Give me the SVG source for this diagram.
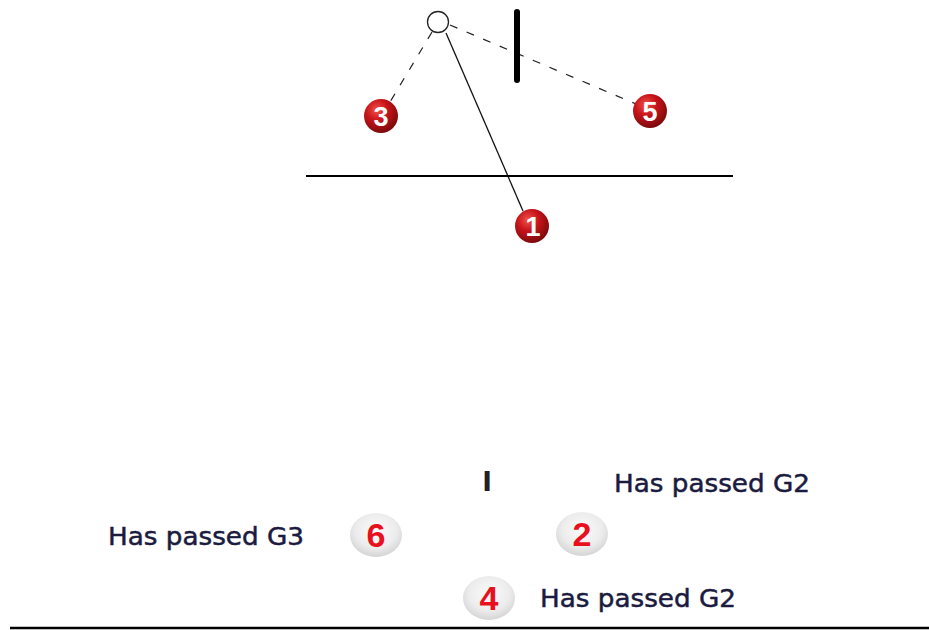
<svg xmlns="http://www.w3.org/2000/svg" width="929" height="630" viewBox="0 0 929 630">
<defs>
<radialGradient id="red" cx="0.38" cy="0.32" r="0.7">
<stop offset="0" stop-color="#f0534a"/>
<stop offset="0.45" stop-color="#c8141a"/>
<stop offset="1" stop-color="#7a0a0c"/>
</radialGradient>
<radialGradient id="grey" cx="0.5" cy="0.4" r="0.65">
<stop offset="0" stop-color="#fbfbfb"/>
<stop offset="0.6" stop-color="#ececec"/>
<stop offset="1" stop-color="#cfcfcf"/>
</radialGradient>
<style>
.ball{fill:url(#red)}
.bnum{font-family:"Liberation Sans",sans-serif;font-weight:bold;font-size:27px;fill:#fff;text-anchor:middle}
.gball{fill:url(#grey)}
.gnum{font-family:"Liberation Sans",sans-serif;font-weight:bold;font-size:34px;fill:#e8101c;text-anchor:middle}
.lbl{font-family:"DejaVu Sans",sans-serif;font-size:25px;fill:#1b1b40;stroke:#1b1b40;stroke-width:0.5}
.dash{stroke:#222;stroke-width:1.2;stroke-dasharray:8,10;fill:none}
</style>
</defs>
<g id="connectors">
<line class="dash" x1="432" y1="32" x2="390" y2="102"/>
<line class="dash" x1="450" y1="25" x2="636" y2="104"/>
<line x1="446" y1="33" x2="523" y2="211" stroke="#111" stroke-width="1.3"/>
</g>
<g id="bar"><line x1="517" y1="12" x2="517" y2="80" stroke="#000" stroke-width="6" stroke-linecap="round"/></g>
<g id="hline"><line x1="306" y1="176" x2="733" y2="176" stroke="#000" stroke-width="2"/></g>
<g id="pivot"><circle cx="438" cy="22" r="10.5" fill="#fff" stroke="#222" stroke-width="1.3"/></g>
<g id="n3"><circle class="ball" cx="381" cy="116" r="17"/><text class="bnum" x="381" y="126">3</text></g>
<g id="n5"><circle class="ball" cx="650" cy="111" r="17"/><text class="bnum" x="650" y="121">5</text></g>
<g id="n1"><circle class="ball" cx="532" cy="226" r="17"/><text class="bnum" x="533" y="236">1</text></g>
<g id="marker-I"><text x="487" y="491" font-family="DejaVu Sans,sans-serif" font-weight="bold" font-size="26" fill="#222" text-anchor="middle">I</text></g>
<g id="n6"><ellipse class="gball" cx="376" cy="535" rx="26" ry="22"/><text class="gnum" x="376" y="547">6</text></g>
<g id="n2"><ellipse class="gball" cx="582" cy="534" rx="26" ry="22"/><text class="gnum" x="582" y="546">2</text></g>
<g id="n4"><ellipse class="gball" cx="489" cy="598" rx="26" ry="22"/><text class="gnum" x="489" y="610">4</text></g>
<g id="labels">
<text class="lbl" x="614" y="492" textLength="196" lengthAdjust="spacingAndGlyphs">Has passed G2</text>
<text class="lbl" x="108" y="545" textLength="196" lengthAdjust="spacingAndGlyphs">Has passed G3</text>
<text class="lbl" x="540" y="607" textLength="196" lengthAdjust="spacingAndGlyphs">Has passed G2</text>
</g>
<g id="baseline"><line x1="10" y1="628" x2="929" y2="628" stroke="#000" stroke-width="2.5"/></g>
</svg>
